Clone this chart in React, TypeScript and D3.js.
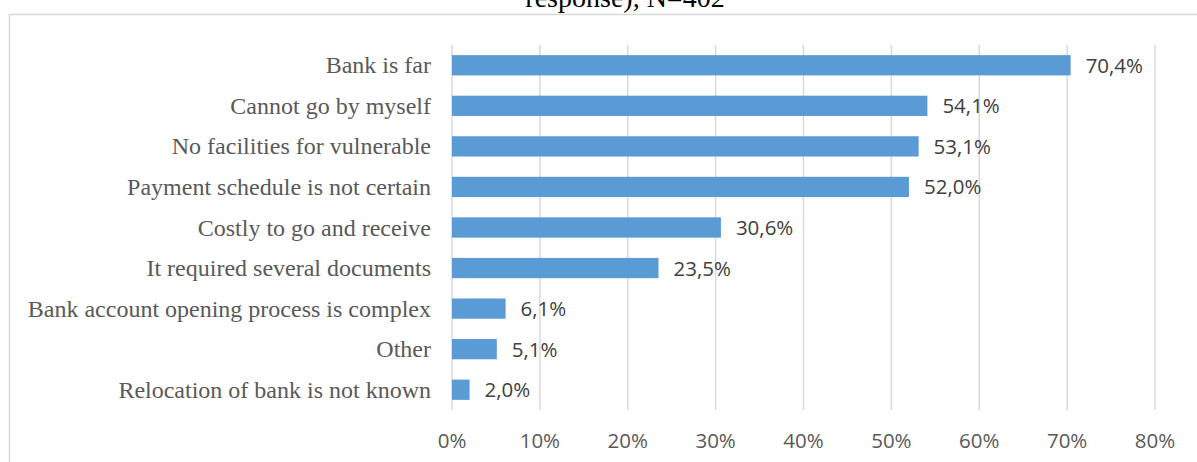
import React from "react";
import * as d3 from "d3";

const categories = [
  "Bank is far",
  "Cannot go by myself",
  "No facilities for vulnerable",
  "Payment schedule is not certain",
  "Costly to go and receive",
  "It required several documents",
  "Bank account opening process is complex",
  "Other",
  "Relocation of bank is not known",
];
const values = [70.4, 54.1, 53.1, 52.0, 30.6, 23.5, 6.1, 5.1, 2.0];
const ticks = [0, 10, 20, 30, 40, 50, 60, 70, 80];
const titleText = "response), N=402";

const W = 1197;
const H = 462;

export default function App() {
  const x = d3.scaleLinear().domain([0, 80]).range([452, 1155]);
  const y = d3
    .scaleBand<string>()
    .domain(categories)
    .range([45, 410])
    .paddingInner(0.5)
    .paddingOuter(0.25);
  const fmt = (v: number) => v.toFixed(1).replace(".", ",") + "%";
  const sans = "'Open Sans', sans-serif";
  const serif = "'Liberation Serif', 'Times New Roman', serif";
  return (
    <svg
      width={W}
      height={H}
      style={{ position: "absolute", left: 0, top: 0, background: "#fff" }}
    >
      <rect x={9.5} y={14.5} width={1200} height={500} fill="#fff" stroke="#D9D9D9" strokeWidth={1.5} />
      <text x={625} y={7} textAnchor="middle" fontFamily={serif} fontSize={28} fill="#000">
        {titleText}
      </text>
      {ticks.map((t) => (
        <g key={t}>
          <line x1={x(t)} x2={x(t)} y1={45} y2={410} stroke="#D9D9D9" strokeWidth={1.5} />
          <text x={x(t)} y={448} textAnchor="middle" fontFamily={sans} fontSize={20.5} fill="#595959">
            {t + "%"}
          </text>
        </g>
      ))}
      {categories.map((c, i) => {
        const yc = (y(c) as number) + y.bandwidth() / 2;
        return (
          <g key={c}>
            <rect
              x={x(0)}
              y={y(c) as number}
              width={x(values[i]) - x(0)}
              height={y.bandwidth()}
              fill="#5B9BD5"
            />
            <text x={431} y={yc + 8} textAnchor="end" fontFamily={serif} fontSize={24} fill="#595959">
              {c}
            </text>
            <text x={x(values[i]) + 15} y={yc + 7.5} textAnchor="start" fontFamily={sans} fontSize={20.5} fill="#404040">
              {fmt(values[i])}
            </text>
          </g>
        );
      })}
    </svg>
  );
}
